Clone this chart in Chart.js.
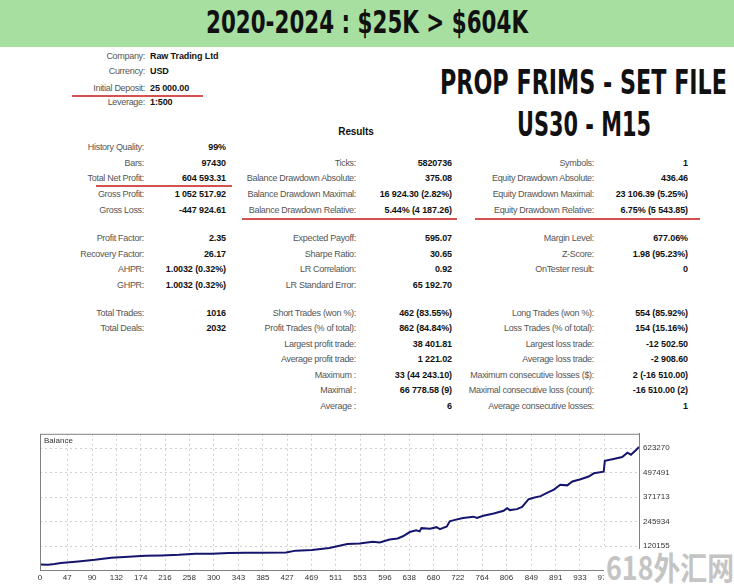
<!DOCTYPE html>
<html>
<head>
<meta charset="utf-8">
<script src="https://cdn.jsdelivr.net/npm/chart.js@4.4.0/dist/chart.umd.min.js"></script>
<style>
body{margin:0;width:734px;height:587px;position:relative;overflow:hidden;background:#fff;font-family:"Liberation Sans",Arial,sans-serif}
.banner{position:absolute;left:0;top:0;width:734px;height:47px;background:#a7dfa0}
.big{position:absolute;font-family:"DejaVu Sans";font-weight:bold;color:#111;white-space:nowrap;transform-origin:0 0;line-height:1}
.t{position:absolute;font-size:9px;line-height:10px;white-space:nowrap}
.l{color:#555;letter-spacing:-0.3px}
.v{color:#111;font-weight:bold;letter-spacing:-0.1px}
.red{position:absolute;height:1.5px;background:#d55050}
#wrap{position:absolute;left:0;top:425px;width:734px;height:162px}
#wm{position:absolute;left:604px;top:549px;width:130px;height:38px;background:#fff;overflow:hidden}
#wm span{position:absolute;left:2px;font-family:"Noto Sans CJK SC",sans-serif;font-weight:bold;color:#c4c4c4;white-space:nowrap;line-height:1;transform-origin:0 0}
</style>
</head>
<body>
<div class="banner"></div>
<div class="big" id="title">2020-2024 : $25K &gt; $604K</div>
<div class="big" id="prop">PROP FRIMS - SET FILE</div>
<div class="big" id="sym">US30 - M15</div>
<div id="report"></div>
<div id="wrap"><canvas id="balanceChart" width="734" height="162"></canvas></div>
<div id="wm"><span id="wmText">618外汇网</span></div>

<script>
// balance curve (trade number -> balance, USD)
var tradeNo = [0, 14, 25, 36, 66, 95, 123, 153, 182, 210, 240, 269, 297, 326, 355, 384, 425, 442, 470, 500,
  531, 552, 575, 587, 604, 618, 627, 639, 650, 656, 659, 674, 685, 691, 703, 708, 717, 731, 749, 755,
  766, 784, 801, 807, 812, 824, 833, 844, 853, 865, 876, 888, 899, 911, 920, 934, 948, 957, 974, 976,
  991, 1006, 1015, 1021, 1030, 1035];
var balance = [25000, 23800, 27500, 33100, 41200, 49700, 59800, 64800, 69800, 72000, 74900, 79900, 81000, 84900, 85500, 86000, 86500, 96500, 100000, 110100,
  130200, 133700, 141800, 138800, 153900, 158900, 170500, 192100, 200600, 195600, 212200, 209200, 217200, 207200, 220800, 247400, 254500, 264500, 271100, 264500,
  276100, 287700, 301300, 314900, 304800, 309800, 321400, 360100, 368200, 376700, 393300, 410400, 435600, 432100, 452200, 463800, 477400, 494000, 502500, 557900,
  567900, 578000, 599600, 589500, 613200, 629593];

var xTicks = [0, 47, 90, 132, 174, 216, 258, 300, 343, 385, 427, 469, 511, 553, 596, 638, 680, 722, 764, 806, 849, 891, 933, 975];
var yTicks = [120155, 245934, 371713, 497491, 623270];

// report text
var info = [["Company:", "Raw Trading Ltd"], ["Currency:", "USD"], ["Initial Deposit:", "25 000.00"], ["Leverage:", "1:500"]];
var infoY = [56, 71, 88, 102];
var rowY = [147, 163, 178, 194, 210, 0, 238, 254, 269, 285, 0, 313, 328, 344, 359, 375, 390, 406];
var col1 = [[0, "History Quality:", "99%"], [1, "Bars:", "97430"], [2, "Total Net Profit:", "604 593.31"],
  [3, "Gross Profit:", "1 052 517.92"], [4, "Gross Loss:", "-447 924.61"], [6, "Profit Factor:", "2.35"],
  [7, "Recovery Factor:", "26.17"], [8, "AHPR:", "1.0032 (0.32%)"], [9, "GHPR:", "1.0032 (0.32%)"],
  [11, "Total Trades:", "1016"], [12, "Total Deals:", "2032"]];
var col2 = [[1, "Ticks:", "5820736"], [2, "Balance Drawdown Absolute:", "375.08"],
  [3, "Balance Drawdown Maximal:", "16 924.30 (2.82%)"], [4, "Balance Drawdown Relative:", "5.44% (4 187.26)"],
  [6, "Expected Payoff:", "595.07"], [7, "Sharpe Ratio:", "30.65"], [8, "LR Correlation:", "0.92"],
  [9, "LR Standard Error:", "65 192.70"], [11, "Short Trades (won %):", "462 (83.55%)"],
  [12, "Profit Trades (% of total):", "862 (84.84%)"], [13, "Largest profit trade:", "38 401.81"],
  [14, "Average profit trade:", "1 221.02"], [15, "Maximum :", "33 (44 243.10)"],
  [16, "Maximal :", "66 778.58 (9)"], [17, "Average :", "6"]];
var col3 = [[1, "Symbols:", "1"], [2, "Equity Drawdown Absolute:", "436.46"],
  [3, "Equity Drawdown Maximal:", "23 106.39 (5.25%)"], [4, "Equity Drawdown Relative:", "6.75% (5 543.85)"],
  [6, "Margin Level:", "677.06%"], [7, "Z-Score:", "1.98 (95.23%)"], [8, "OnTester result:", "0"],
  [11, "Long Trades (won %):", "554 (85.92%)"], [12, "Loss Trades (% of total):", "154 (15.16%)"],
  [13, "Largest loss trade:", "-12 502.50"], [14, "Average loss trade:", "-2 908.60"],
  [15, "Maximum consecutive losses ($):", "2 (-16 510.00)"], [16, "Maximal consecutive loss (count):", "-16 510.00 (2)"],
  [17, "Average consecutive losses:", "1"]];

var report = document.getElementById("report");
function addText(cls, txt, x, y, alignRight, extra) {
  var d = document.createElement("div");
  d.className = "t " + cls;
  d.textContent = txt;
  if (alignRight) d.style.right = (734 - x) + "px"; else d.style.left = x + "px";
  d.style.top = (y - 5) + "px";
  if (extra) d.style.cssText += extra;
  report.appendChild(d);
}
function addRed(x1, x2, y) {
  var d = document.createElement("div");
  d.className = "red";
  d.style.left = x1 + "px"; d.style.width = (x2 - x1) + "px"; d.style.top = y + "px";
  report.appendChild(d);
}

info.forEach(function (r, i) {
  addText("l", r[0], 145, infoY[i], true);
  addText("v", r[1], 150, infoY[i], false);
});
addText("v", "Results", 356, 132, false, "font-size:10px;transform:translateX(-50%);");

var colX = [[144, 226], [356, 452], [594, 688]];
[col1, col2, col3].forEach(function (col, c) {
  col.forEach(function (r) {
    addText("l", r[1], colX[c][0], rowY[r[0]], true);
    addText("v", r[2], colX[c][1], rowY[r[0]], true);
  });
});
addRed(72, 203, 95);
addRed(96, 232, 185);
addRed(242, 457, 218);
addRed(475, 700, 218);

// big heading text, fitted to the box it takes in the picture
function place(id, left, capTop, width, capH) {
  var el = document.getElementById(id);
  var fs = capH / 0.729;
  el.style.fontSize = fs + "px";
  el.style.left = left + "px";
  el.style.top = (capTop - 0.117 * fs) + "px";
  var w = el.getBoundingClientRect().width;
  el.style.transform = "scaleX(" + (width / w) + ")";
}
place("title", 206, 11, 322, 23);
place("prop", 440, 71, 287, 24);
place("sym", 517, 113, 134, 24);

var wm = document.getElementById("wmText");
wm.style.fontSize = "32px";
wm.style.top = "1px";
wm.style.transform = "scaleX(" + (128 / wm.getBoundingClientRect().width) + ")";

// chart
var frame = {
  id: "frame",
  afterDraw: function (chart) {
    var a = chart.chartArea, c = chart.ctx;
    c.save();
    c.strokeStyle = "#808080";
    c.lineWidth = 1;
    c.strokeRect(a.left + 0.5, a.top + 0.5, a.right - a.left, a.bottom - a.top);
    c.fillStyle = "#333";
    c.font = "8px 'Liberation Sans', Arial";
    c.textBaseline = "top";
    c.fillText(chart.data.datasets[0].label, a.left + 4, a.top + 3);
    c.restore();
  }
};

var ctx = document.getElementById("balanceChart").getContext("2d");
new Chart(ctx, {
  type: "line",
  data: {
    datasets: [{
      label: "Balance",
      data: tradeNo.map(function (t, i) { return { x: t, y: balance[i] }; }),
      borderColor: "#15156e",
      borderWidth: 2,
      pointRadius: 0,
      tension: 0,
      fill: false
    }]
  },
  options: {
    responsive: false,
    animation: false,
    layout: { padding: { left: 40, top: 7, right: 0, bottom: 0 } },
    plugins: { legend: { display: false }, tooltip: { enabled: false } },
    scales: {
      x: {
        type: "linear", min: 0, max: 1035,
        afterBuildTicks: function (s) { s.ticks = xTicks.map(function (v) { return { value: v }; }); },
        afterFit: function (s) { s.height = 17; },
        grid: { color: "#cfcfcf", drawTicks: false },
        border: { color: "#808080", dash: [2, 3] },
        ticks: { color: "#333", font: { size: 8, family: "Liberation Sans" }, maxRotation: 0, autoSkip: false, padding: 3 }
      },
      y: {
        position: "right", min: -3000, max: 697000,
        afterBuildTicks: function (s) { s.ticks = yTicks.map(function (v) { return { value: v }; }); },
        afterFit: function (s) { s.width = 95; },
        grid: { color: "#cfcfcf", drawTicks: false },
        border: { color: "#808080", dash: [2, 3] },
        ticks: { color: "#333", font: { size: 8, family: "Liberation Sans" }, padding: 4, callback: function (v) { return String(v); } }
      }
    }
  },
  plugins: [frame]
});
</script>
</body>
</html>
